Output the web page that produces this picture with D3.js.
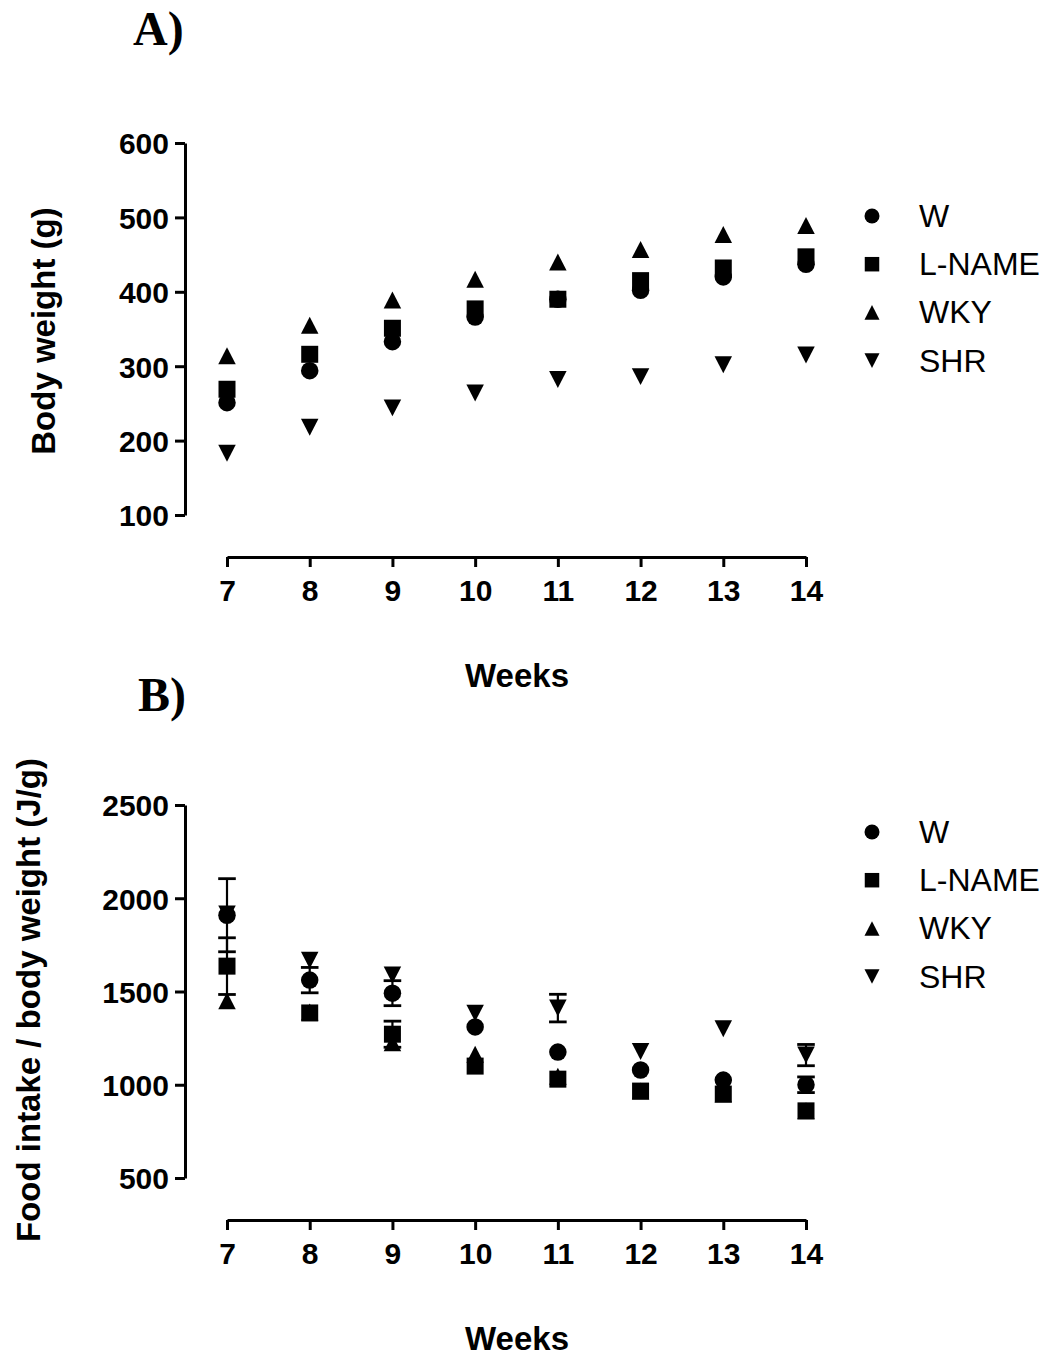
<!DOCTYPE html>
<html>
<head>
<meta charset="utf-8">
<script src="https://cdn.jsdelivr.net/npm/d3@7/dist/d3.min.js"></script>
<style>
  html, body { margin: 0; padding: 0; background: #fff; }
  svg { display: block; }
  text { font-family: "Liberation Sans", Arial, sans-serif; fill: #000; }
</style>
</head>
<body>
<svg id="chart" width="1050" height="1358"></svg>
<script>
// ---------- data ----------
const weeks = [7, 8, 9, 10, 11, 12, 13, 14];
const seriesNames = ["W", "L-NAME", "WKY", "SHR"];

// Panel A: body weight (g)
const bwW     = [251, 294, 333, 366, 390, 402, 420, 437];
const bwLNAME = [269, 316, 351, 377, 390, 415, 432, 447];
const bwWKY   = [314, 355, 389, 417, 440, 457, 477, 489];
const bwSHR   = [183, 218, 244, 264, 282, 286, 302, 315];

// Panel B: food intake / body weight (J/g), mean and SEM
// (0 = error bar too small to show outside the symbol)
const fiW     = [1909, 1561, 1491, 1310, 1175, 1079, 1025, 1000];
const fiLNAME = [1636, 1385, 1271, 1100, 1030, 966, 950, 860];
const fiWKY   = [1450, 1390, 1225, 1164, 1045, 966, 950, 860];
const fiSHR   = [1915, 1668, 1588, 1384, 1411, 1178, 1300, 1159];
const fiWerr     = [196, 68, 67, 0, 0, 0, 0, 42];
const fiLNAMEerr = [152, 0, 70, 0, 0, 0, 0, 0];
const fiWKYerr   = [0, 0, 0, 0, 0, 0, 0, 0];
const fiSHRerr   = [0, 0, 0, 0, 74, 0, 0, 57];

const yTicksA = [100, 200, 300, 400, 500, 600];
const yTicksB = [500, 1000, 1500, 2000, 2500];

// ---------- symbols ----------
const triUp = { draw(ctx, size) { const w = Math.sqrt(size); const h = w * 0.97;
  ctx.moveTo(0, -h / 2); ctx.lineTo(w / 2, h / 2); ctx.lineTo(-w / 2, h / 2); ctx.closePath(); } };
const triDown = { draw(ctx, size) { const w = Math.sqrt(size); const h = w * 0.97;
  ctx.moveTo(0, h / 2); ctx.lineTo(w / 2, -h / 2); ctx.lineTo(-w / 2, -h / 2); ctx.closePath(); } };
const symTypes = [d3.symbolCircle, d3.symbolSquare, triUp, triDown];
function symSize(i, d) {
  if (i === 0) return Math.PI * (d / 2) * (d / 2);
  if (i === 1) return (d - 0.5) * (d - 0.5);
  return d * d;
}

const svg = d3.select("#chart");

function panel(cfg) {
  const x = d3.scaleLinear().domain([7, 14]).range([227, 806]);
  const y = d3.scaleLinear().domain(cfg.yDomain).range(cfg.yRange);
  const g = svg.append("g");

  // Y axis
  const ya = g.append("g").attr("transform", `translate(185,0)`)
    .call(d3.axisLeft(y).tickValues(cfg.yTicks).tickSize(10).tickSizeOuter(0).tickPadding(6).tickFormat(d3.format("d")));
  // X axis
  const xa = g.append("g").attr("transform", `translate(0,${cfg.xAxisY})`)
    .call(d3.axisBottom(x).tickValues(weeks).tickSize(10).tickSizeOuter(0).tickPadding(13).tickFormat(d3.format("d")));
  [ya, xa].forEach(a => {
    a.select(".domain").attr("stroke", "#000").attr("stroke-width", 3);
    a.selectAll(".tick line").attr("stroke", "#000").attr("stroke-width", 3);
    a.selectAll(".tick text").attr("font-size", 30).attr("font-weight", "bold")
      .attr("font-family", '"Liberation Sans", Arial, sans-serif').attr("fill", "#000");
  });
  ya.selectAll(".tick text").attr("dy", "0.36em");

  // Axis titles
  g.append("text").attr("x", 517).attr("y", cfg.xAxisY + 130).attr("text-anchor", "middle")
    .attr("font-size", 33).attr("font-weight", "bold").text("Weeks");
  g.append("text").attr("transform", `translate(${cfg.yTitleX},${cfg.yTitleY}) rotate(-90)`)
    .attr("text-anchor", "middle").attr("font-size", 33).attr("font-weight", "bold").text(cfg.yTitle);

  // Panel letter
  g.append("text").attr("x", cfg.letterX).attr("y", cfg.letterY)
    .style("font-family", '"Liberation Serif", "Times New Roman", serif')
    .attr("font-size", 48).attr("font-weight", "bold").text(cfg.letter);

  // Data (drawn from last series to first so W ends on top)
  for (let i = cfg.values.length - 1; i >= 0; i--) {
    const vals = cfg.values[i];
    const errs = cfg.errors ? cfg.errors[i] : null;
    const sg = g.append("g");
    if (errs) {
      weeks.forEach((w, k) => {
        if (!errs[k]) return;
        const cx = x(w), y1 = y(vals[k] + errs[k]), y2 = y(vals[k] - errs[k]);
        sg.append("line").attr("x1", cx).attr("x2", cx).attr("y1", y1).attr("y2", y2)
          .attr("stroke", "#000").attr("stroke-width", 2.2);
        [y1, y2].forEach(yy => sg.append("line").attr("x1", cx - 8.8).attr("x2", cx + 8.8)
          .attr("y1", yy).attr("y2", yy).attr("stroke", "#000").attr("stroke-width", 2.8));
      });
    }
    sg.selectAll("path.pt").data(vals).enter().append("path")
      .attr("transform", (v, k) => `translate(${x(weeks[k])},${y(v)})`)
      .attr("d", d3.symbol().type(symTypes[i]).size(symSize(i, 17.5)))
      .attr("fill", "#000");
  }

  // Legend
  const lg = g.append("g");
  seriesNames.forEach((name, i) => {
    const cy = cfg.legendY + i * 48.2;
    lg.append("path").attr("transform", `translate(872,${cy})`)
      .attr("d", d3.symbol().type(symTypes[i]).size(symSize(i, 15))).attr("fill", "#000");
    lg.append("text").attr("x", 919).attr("y", cy + 11).attr("font-size", 32).text(name);
  });
}

panel({
  letter: "A)", letterX: 133, letterY: 45,
  yDomain: [100, 600], yRange: [515, 143], yTicks: yTicksA,
  xAxisY: 557, yTitle: "Body weight (g)", yTitleX: 55, yTitleY: 331,
  values: [bwW, bwLNAME, bwWKY, bwSHR], errors: null,
  legendY: 216
});

panel({
  letter: "B)", letterX: 138, letterY: 711,
  yDomain: [500, 2500], yRange: [1178, 805], yTicks: yTicksB,
  xAxisY: 1220, yTitle: "Food intake / body weight (J/g)", yTitleX: 40, yTitleY: 1000,
  values: [fiW, fiLNAME, fiWKY, fiSHR], errors: [fiWerr, fiLNAMEerr, fiWKYerr, fiSHRerr],
  legendY: 832
});
</script>
</body>
</html>
